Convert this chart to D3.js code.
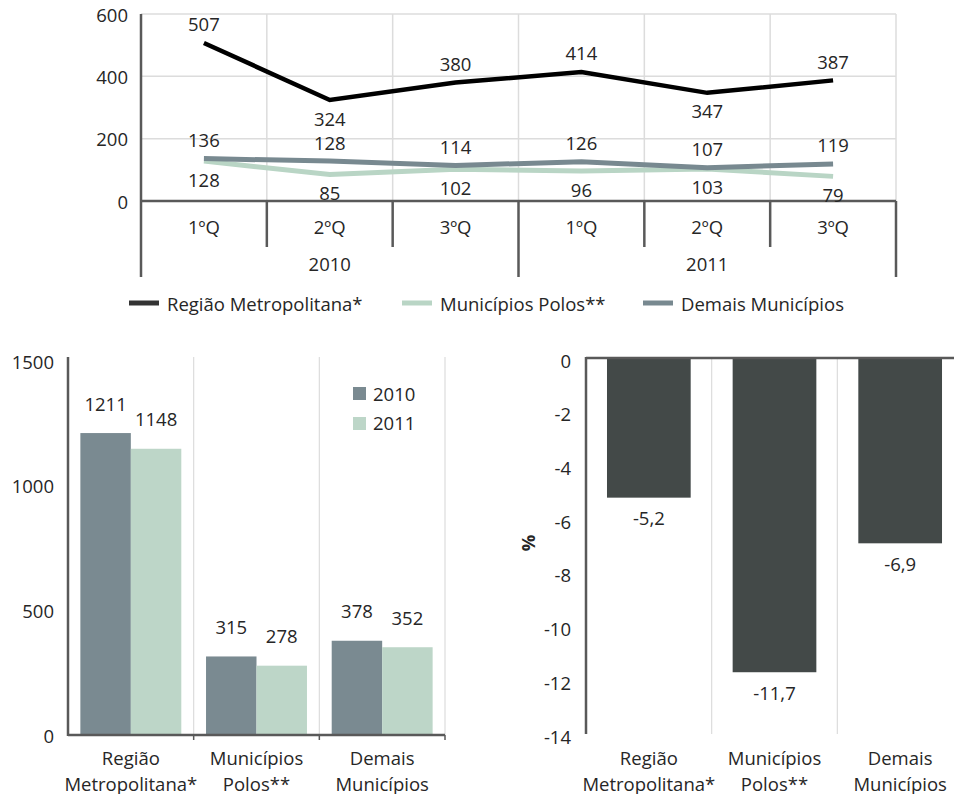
<!DOCTYPE html>
<html><head><meta charset="utf-8">
<script src="https://cdn.jsdelivr.net/npm/d3@7"></script>
<style>
html,body{margin:0;padding:0;background:#fff;}
svg{display:block;font-family:"Open Sans",Lato,sans-serif;}
text{fill:#262626;}
</style></head>
<body>
<svg id="c" width="954" height="794"></svg>
<script>
// ---- data ----
const quarters = ["1ºQ","2ºQ","3ºQ","1ºQ","2ºQ","3ºQ"];
const years = ["2010","2011"];
const regiao = [507,324,380,414,347,387];
const polos = [128,85,102,96,103,79];
const demais = [136,128,114,126,107,119];
const regiaoLabelPos = ["above","below","above","above","below","above"];
const seriesNames = ["Região Metropolitana*","Municípios Polos**","Demais Municípios"];
const lineTicks = [0,200,400,600];

const categories = [["Região","Metropolitana*"],["Municípios","Polos**"],["Demais","Municípios"]];
const totals2010 = [1211,315,378];
const totals2011 = [1148,278,352];
const barTicks = [0,500,1000,1500];

const variation = [-5.2,-11.7,-6.9];
const varTicks = [0,-2,-4,-6,-8,-10,-12,-14];

// ---- styling ----
const C_AXIS = "#595959", C_GRID = "#dcdcdc";
const C_BLACK = "#000000", C_GREEN = "#b9d5c5", C_BLUE = "#788990";
const C_2010 = "#7a8a91", C_2011 = "#bdd6c8", C_VAR = "#434948";
const FS = 18.5;
const locale = d3.formatLocale({decimal:",",thousands:".",grouping:[3],currency:["R$",""],minus:"-"});
const f1 = locale.format(".1f"), f0 = locale.format("d");

const svg = d3.select("#c");

// ================= TOP LINE CHART =================
{
  const g = svg.append("g");
  const x = d3.scaleBand().domain(d3.range(quarters.length)).range([141,896]).padding(0);
  const y = d3.scaleLinear().domain([0,600]).range([201,14]);
  g.selectAll(".hg").data(lineTicks.filter(d=>d>0)).join("line")
    .attr("x1",141).attr("x2",896).attr("y1",d=>y(d)).attr("y2",d=>y(d))
    .attr("stroke",C_GRID).attr("stroke-width",1.5);
  g.selectAll(".vg").data(d3.range(1,quarters.length+1)).join("line")
    .attr("x1",i=>x.range()[0]+i*x.step()).attr("x2",i=>x.range()[0]+i*x.step())
    .attr("y1",y(600)).attr("y2",y(0)).attr("stroke",C_GRID).attr("stroke-width",1.5);
  g.selectAll(".yt").data(lineTicks).join("text")
    .attr("x",128).attr("y",d=>y(d)).attr("text-anchor","end").attr("dominant-baseline","central")
    .attr("font-size",FS).text(d=>d);
  g.append("line").attr("x1",141).attr("x2",141).attr("y1",y(600)).attr("y2",277).attr("stroke",C_AXIS).attr("stroke-width",2.5);
  g.append("line").attr("x1",141).attr("x2",896).attr("y1",y(0)).attr("y2",y(0)).attr("stroke",C_AXIS).attr("stroke-width",2.5);
  d3.range(1,quarters.length+1).forEach(i=>{
    const xx = x.range()[0]+i*x.step();
    const isYear = (i % 3 === 0);
    g.append("line").attr("x1",xx).attr("x2",xx).attr("y1",y(0)).attr("y2",isYear?277:247)
      .attr("stroke",C_AXIS).attr("stroke-width",2.5);
  });
  g.selectAll(".ql").data(quarters).join("text")
    .attr("x",(d,i)=>x(i)+x.bandwidth()/2).attr("y",226).attr("text-anchor","middle")
    .attr("dominant-baseline","central").attr("font-size",FS).text(d=>d);
  g.selectAll(".yl").data(years).join("text")
    .attr("x",(d,i)=>x(i*3+1)+x.bandwidth()/2).attr("y",263).attr("text-anchor","middle")
    .attr("dominant-baseline","central").attr("font-size",FS).text(d=>d);
  const line = d3.line().x((d,i)=>x(i)+x.bandwidth()/2).y(d=>y(d));
  g.append("path").attr("d",line(polos)).attr("fill","none").attr("stroke",C_GREEN).attr("stroke-width",5);
  g.append("path").attr("d",line(demais)).attr("fill","none").attr("stroke",C_BLUE).attr("stroke-width",5);
  g.append("path").attr("d",line(regiao)).attr("fill","none").attr("stroke",C_BLACK).attr("stroke-width",4.5);
  const lab = (arr,pos)=>g.append("g").selectAll("text").data(arr).join("text")
    .attr("x",(d,i)=>x(i)+x.bandwidth()/2)
    .attr("y",(d,i)=>y(d)+((typeof pos==="string"?pos:pos[i])==="above"?-19:18))
    .attr("text-anchor","middle").attr("dominant-baseline","central").attr("font-size",FS).text(d=>d);
  lab(regiao,regiaoLabelPos);
  lab(demais,"above");
  lab(polos,"below");
  const legX = [129,402,643], legCol=[C_BLACK,C_GREEN,C_BLUE];
  seriesNames.forEach((s,i)=>{
    g.append("line").attr("x1",legX[i]).attr("x2",legX[i]+30).attr("y1",303).attr("y2",303)
      .attr("stroke",i===0?"#333":legCol[i]).attr("stroke-width",5);
    g.append("text").attr("x",legX[i]+38).attr("y",303).attr("dominant-baseline","central")
      .attr("font-size",FS).text(s);
  });
}

// ================= BOTTOM LEFT BAR CHART =================
{
  const g = svg.append("g");
  const x0 = d3.scaleBand().domain(d3.range(categories.length)).range([68,445]).padding(0);
  const x1 = d3.scaleBand().domain(years).range([0,x0.bandwidth()]).paddingInner(0).paddingOuter(0.245);
  const y = d3.scaleLinear().domain([0,1500]).range([735,361]);
  d3.range(1,categories.length+1).forEach(i=>{
    const xx = x0.range()[0]+i*x0.step();
    g.append("line").attr("x1",xx).attr("x2",xx).attr("y1",357).attr("y2",y(0)).attr("stroke",C_GRID).attr("stroke-width",1.2);
    g.append("line").attr("x1",xx).attr("x2",xx).attr("y1",y(0)).attr("y2",y(0)+5).attr("stroke",C_AXIS).attr("stroke-width",1.5);
  });
  g.selectAll(".yt").data(barTicks).join("text")
    .attr("x",54).attr("y",d=>y(d)).attr("text-anchor","end").attr("dominant-baseline","central")
    .attr("font-size",FS).text(d=>d);
  const vals = [totals2010,totals2011], cols=[C_2010,C_2011];
  years.forEach((yr,k)=>{
    g.append("g").selectAll("rect").data(vals[k]).join("rect")
      .attr("x",(d,i)=>x0(i)+x1(yr)).attr("width",x1.bandwidth())
      .attr("y",d=>y(d)).attr("height",d=>y(0)-y(d)).attr("fill",cols[k]);
    g.append("g").selectAll("text").data(vals[k]).join("text")
      .attr("x",(d,i)=>x0(i)+x1(yr)+x1.bandwidth()/2).attr("y",d=>y(d)-30)
      .attr("text-anchor","middle").attr("dominant-baseline","central").attr("font-size",FS).text(d=>d);
  });
  g.append("line").attr("x1",68).attr("x2",68).attr("y1",357).attr("y2",y(0)+1).attr("stroke",C_AXIS).attr("stroke-width",2.5);
  g.append("line").attr("x1",68).attr("x2",445).attr("y1",y(0)).attr("y2",y(0)).attr("stroke",C_AXIS).attr("stroke-width",2.5);
  categories.forEach((c,i)=>{
    c.forEach((t,j)=>g.append("text").attr("x",x0(i)+x0.bandwidth()/2).attr("y",757+j*26)
      .attr("text-anchor","middle").attr("dominant-baseline","central").attr("font-size",FS).text(t));
  });
  years.forEach((yr,k)=>{
    g.append("rect").attr("x",353).attr("y",387+k*30).attr("width",13).attr("height",13).attr("fill",cols[k]);
    g.append("text").attr("x",373).attr("y",393+k*29).attr("dominant-baseline","central").attr("font-size",FS).text(yr);
  });
}

// ================= BOTTOM RIGHT VARIATION CHART =================
{
  const g = svg.append("g");
  const x = d3.scaleBand().domain(d3.range(categories.length)).range([586,963]).padding(0);
  const y = d3.scaleLinear().domain([-14,0]).range([734,358]);
  d3.range(1,categories.length+1).forEach(i=>{
    const xx = x.range()[0]+i*x.step();
    g.append("line").attr("x1",xx).attr("x2",xx).attr("y1",y(0)).attr("y2",734).attr("stroke",C_GRID).attr("stroke-width",1.2);
  });
  g.selectAll(".yt").data(varTicks).join("text")
    .attr("x",571).attr("y",d=>y(d)+2).attr("text-anchor","end").attr("dominant-baseline","central")
    .attr("font-size",FS).text(d=>f0(d));
  g.selectAll("rect").data(variation).join("rect")
    .attr("x",(d,i)=>x(i)+x.bandwidth()*0.167).attr("width",x.bandwidth()*0.666)
    .attr("y",y(0)).attr("height",d=>y(d)-y(0)).attr("fill",C_VAR);
  g.append("g").selectAll("text").data(variation).join("text")
    .attr("x",(d,i)=>x(i)+x.bandwidth()/2).attr("y",d=>y(d)+20)
    .attr("text-anchor","middle").attr("dominant-baseline","central").attr("font-size",FS).text(d=>f1(d));
  g.append("line").attr("x1",586).attr("x2",586).attr("y1",y(0)-1).attr("y2",734).attr("stroke",C_AXIS).attr("stroke-width",2.5);
  g.append("line").attr("x1",586).attr("x2",963).attr("y1",y(0)).attr("y2",y(0)).attr("stroke",C_AXIS).attr("stroke-width",2.5);
  g.append("text").attr("transform","translate(527,543) rotate(-90)").attr("text-anchor","middle")
    .attr("dominant-baseline","central").attr("font-size",FS).attr("font-weight","bold").text("%");
  categories.forEach((c,i)=>{
    c.forEach((t,j)=>g.append("text").attr("x",x(i)+x.bandwidth()/2).attr("y",757+j*26)
      .attr("text-anchor","middle").attr("dominant-baseline","central").attr("font-size",FS).text(t));
  });
}
</script>
</body></html>
